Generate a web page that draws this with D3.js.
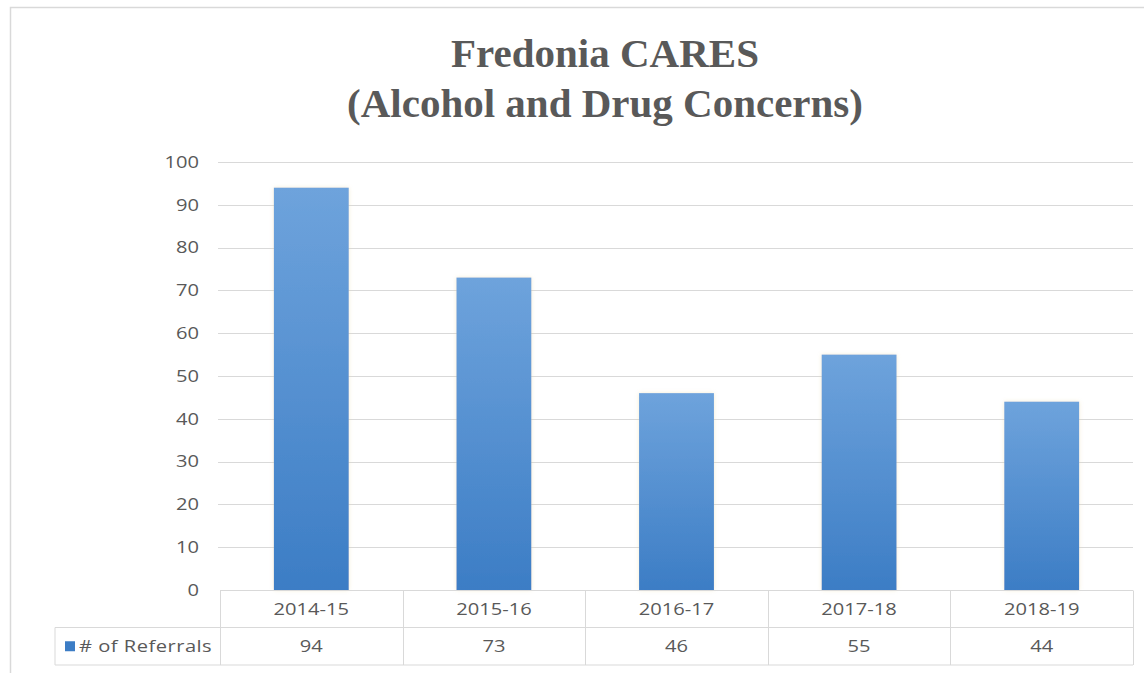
<!DOCTYPE html>
<html>
<head>
<meta charset="utf-8">
<script src="https://cdn.jsdelivr.net/npm/d3@7"></script>
<style>
    body { margin: 0; background: white; }
    svg { display: block; }
</style>
</head>
<body>
<svg id="chart" width="1144" height="673"></svg>
<script>
// data
var categories = ["2014-15", "2015-16", "2016-17", "2017-18", "2018-19"];
var referrals = [94, 73, 46, 55, 44];
var seriesName = "# of Referrals";
var yTicks = [0, 10, 20, 30, 40, 50, 60, 70, 80, 90, 100];
var titleLines = ["Fredonia CARES", "(Alcohol and Drug Concerns)"];

var width = 1144, height = 673;
var plot = { left: 220, right: 1133, top: 162, bottom: 590 };
var rowH = 37.5;
var legendLeft = 55;
var textStretch = 1.22; // the source picture is stretched sideways

var colors = {
    border: "#d9d9d9",
    grid: "#d9d9d9",
    text: "#595959",
    barTop: "#6ea3dc",
    barBottom: "#3c7dc5",
};

var svg = d3.select("#chart");

var defs = svg.append("defs");
var grad = defs.append("linearGradient")
    .attr("id", "barGrad")
    .attr("x1", 0).attr("y1", 0).attr("x2", 0).attr("y2", 1);
grad.append("stop").attr("offset", "0%").attr("stop-color", colors.barTop);
grad.append("stop").attr("offset", "100%").attr("stop-color", colors.barBottom);

var shadow = defs.append("filter").attr("id", "shadow")
    .attr("x", "-20%").attr("y", "-5%").attr("width", "140%").attr("height", "110%");
shadow.append("feGaussianBlur").attr("in", "SourceAlpha").attr("stdDeviation", 2).attr("result", "b");
shadow.append("feFlood").attr("flood-color", "#e8d9a8").attr("flood-opacity", 0.5).attr("result", "c");
shadow.append("feComposite").attr("in", "c").attr("in2", "b").attr("operator", "in").attr("result", "s");
var merge = shadow.append("feMerge");
merge.append("feMergeNode").attr("in", "s");
merge.append("feMergeNode").attr("in", "SourceGraphic");

// text placed at (x, y) and stretched sideways round x
function stretched(sel, x, y) {
    return sel.attr("transform", (d, i) => `translate(${x(d, i)},${y(d, i)}) scale(${textStretch},1)`);
}

var labelFont = "'Open Sans', 'DejaVu Sans', sans-serif";

// outer frame
svg.append("path")
    .attr("d", `M10.5,${height} V7.5 H${width}`)
    .attr("fill", "none")
    .attr("stroke", colors.border)
    .attr("stroke-width", 1.5);

// title
svg.append("g").selectAll("text")
    .data(titleLines)
    .join("text")
    .attr("x", 605)
    .attr("y", (d, i) => 67 + i * 50)
    .attr("text-anchor", "middle")
    .style("font-family", "'Liberation Serif', 'Times New Roman', serif")
    .style("font-weight", "bold")
    .style("font-size", "41px")
    .attr("fill", colors.text)
    .text(d => d);

// scales
var xScale = d3.scaleBand()
    .domain(categories)
    .range([plot.left, plot.right])
    .paddingInner(0.59)
    .paddingOuter(0.295);

var yScale = d3.scaleLinear()
    .domain([0, 100])
    .range([plot.bottom, plot.top]);

// grid
svg.append("g").selectAll("line")
    .data(yTicks.filter(d => d > 0))
    .join("line")
    .attr("x1", plot.left - 2)
    .attr("x2", plot.right)
    .attr("y1", d => Math.round(yScale(d)) + 0.5)
    .attr("y2", d => Math.round(yScale(d)) + 0.5)
    .attr("stroke", colors.grid)
    .attr("stroke-width", 1);

// y labels
stretched(
    svg.append("g").selectAll("text")
        .data(yTicks)
        .join("text"),
    () => 199, d => yScale(d)
)
    .attr("dy", "0.35em")
    .attr("text-anchor", "end")
    .style("font-family", labelFont)
    .style("font-size", "16.5px")
    .attr("fill", colors.text)
    .text(d => d);

// bars
svg.append("g").selectAll("rect")
    .data(categories)
    .join("rect")
    .attr("x", d => xScale(d))
    .attr("y", (d, i) => yScale(referrals[i]))
    .attr("width", xScale.bandwidth())
    .attr("height", (d, i) => yScale(0) - yScale(referrals[i]))
    .attr("fill", "url(#barGrad)")
    .attr("filter", "url(#shadow)");

// data table
var table = svg.append("g")
    .attr("stroke", colors.border)
    .attr("stroke-width", 1)
    .attr("fill", "none");

var y0 = plot.bottom + 0.5, y1 = plot.bottom + rowH, y2 = plot.bottom + 2 * rowH;
table.append("line").attr("x1", plot.left).attr("x2", plot.right).attr("y1", y0).attr("y2", y0);
table.append("line").attr("x1", legendLeft).attr("x2", plot.right).attr("y1", y1).attr("y2", y1);
table.append("line").attr("x1", legendLeft).attr("x2", plot.right).attr("y1", y2).attr("y2", y2);
table.append("line").attr("x1", legendLeft).attr("x2", legendLeft).attr("y1", y1).attr("y2", y2);

var step = xScale.step();
var colEdges = d3.range(categories.length + 1).map(i => plot.left + i * step);
table.selectAll("line.col")
    .data(colEdges)
    .join("line")
    .attr("class", "col")
    .attr("x1", d => Math.round(d) + 0.5)
    .attr("x2", d => Math.round(d) + 0.5)
    .attr("y1", y0)
    .attr("y2", y2);

stretched(
    svg.append("g").selectAll("text")
        .data(categories)
        .join("text"),
    d => xScale(d) + xScale.bandwidth() / 2, () => (y0 + y1) / 2
)
    .attr("dy", "0.35em")
    .attr("text-anchor", "middle")
    .style("font-family", labelFont)
    .style("font-size", "16.5px")
    .attr("fill", colors.text)
    .text(d => d);

stretched(
    svg.append("g").selectAll("text")
        .data(referrals)
        .join("text"),
    (d, i) => xScale(categories[i]) + xScale.bandwidth() / 2, () => (y1 + y2) / 2
)
    .attr("dy", "0.35em")
    .attr("text-anchor", "middle")
    .style("font-family", labelFont)
    .style("font-size", "16.5px")
    .attr("fill", colors.text)
    .text(d => d);

// legend key
svg.append("rect")
    .attr("x", 65)
    .attr("y", (y1 + y2) / 2 - 5)
    .attr("width", 10)
    .attr("height", 10)
    .attr("fill", colors.barBottom);

stretched(
    svg.append("text").datum(seriesName),
    () => 79, () => (y1 + y2) / 2
)
    .attr("dy", "0.35em")
    .style("font-family", labelFont)
    .style("font-size", "16.5px")
    .style("letter-spacing", "0.4px")
    .attr("fill", colors.text)
    .text(d => d);
</script>
</body>
</html>
